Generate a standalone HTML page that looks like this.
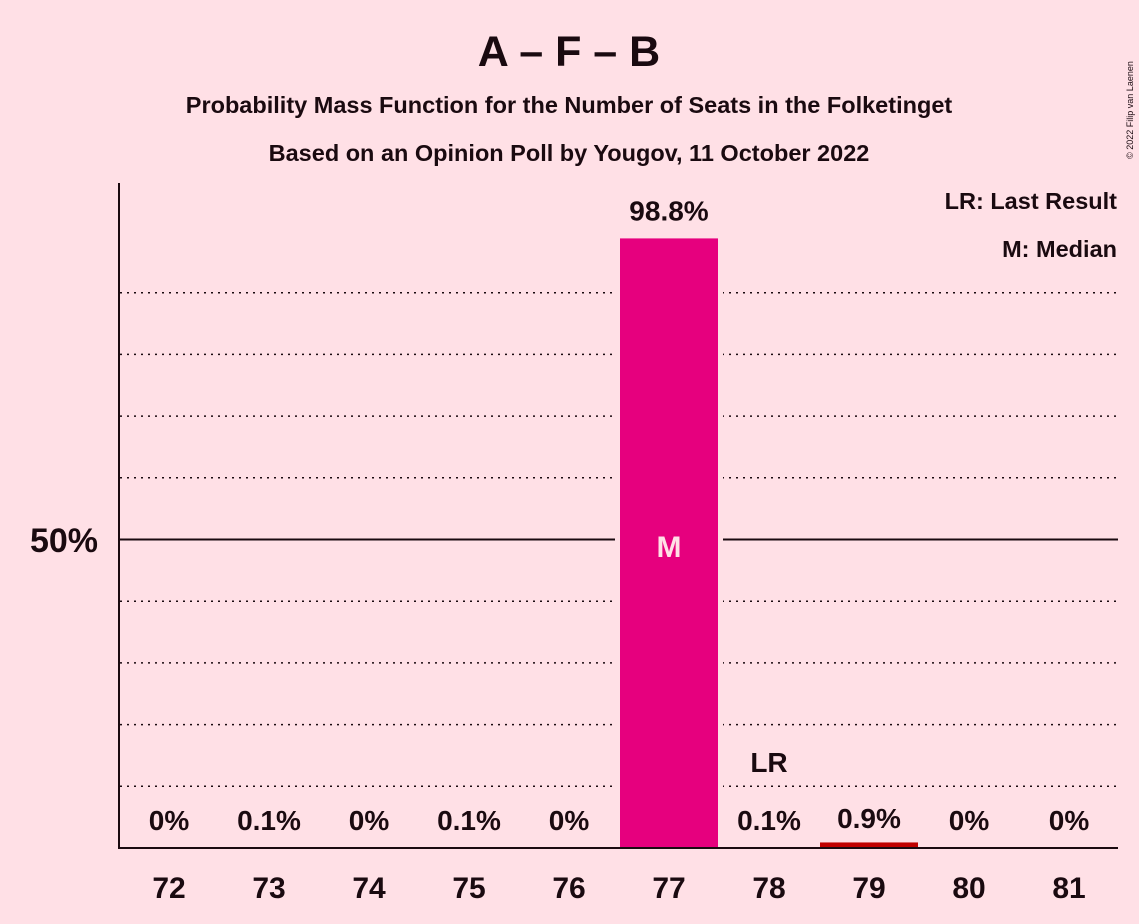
<!DOCTYPE html>
<html><head><meta charset="utf-8"><style>
body{margin:0;background:#FFE0E6;}
svg{display:block;font-family:"Liberation Sans",sans-serif;font-weight:bold;}
</style></head><body>
<svg id="c" width="1139" height="924">
<rect width="1139" height="924" fill="#FFE0E6"/>
<text x="569" y="66" text-anchor="middle" font-size="43" fill="#1A0A10">A – F – B</text>
<text x="569" y="113" text-anchor="middle" font-size="23.5" fill="#1A0A10">Probability Mass Function for the Number of Seats in the Folketinget</text>
<text x="569" y="161" text-anchor="middle" font-size="23.5" fill="#1A0A10">Based on an Opinion Poll by Yougov, 11 October 2022</text>
<text x="1117" y="209" text-anchor="end" font-size="23.5" fill="#1A0A10">LR: Last Result</text>
<text x="1117" y="257" text-anchor="end" font-size="23.5" fill="#1A0A10">M: Median</text>
<text x="1133" y="110" font-size="9" font-weight="normal" fill="#1A0A10" transform="rotate(-90 1133 110)" text-anchor="middle">© 2022 Filip van Laenen</text>
<g id="grid"></g><g id="bars"></g><g id="labels"></g>
<line x1="119" y1="183" x2="119" y2="849" stroke="#1A0A10" stroke-width="2"/>
<line x1="118" y1="848" x2="1118" y2="848" stroke="#1A0A10" stroke-width="2"/>
<text x="98" y="552" text-anchor="end" font-size="34" fill="#1A0A10">50%</text>
</svg>
<script>
const categories=[72,73,74,75,76,77,78,79,80,81];
const values=[0,0.1,0,0.1,0,98.8,0.1,0.9,0,0];
const valueLabels=["0%","0.1%","0%","0.1%","0%","98.8%","0.1%","0.9%","0%","0%"];
const medianSeat=77, lastResultSeat=78;
const NS="http://www.w3.org/2000/svg";
const y=v=>848-v*6.17;
const x=i=>169+i*100;
function mk(t,a,p){const e=document.createElementNS(NS,t);for(const k in a)e.setAttribute(k,a[k]);p.appendChild(e);return e;}
const g=document.getElementById('grid'),b=document.getElementById('bars'),l=document.getElementById('labels');
for(let p=10;p<=90;p+=10){
 const ln=mk('line',{x1:120,x2:1118,y1:y(p),y2:y(p),stroke:'#1A0A10','stroke-width':p==50?2:1.5,'stroke-dasharray':p==50?'':'2,5'},g);
 
 
}
categories.forEach((c,i)=>{
 const v=values[i];
 const col=c==medianSeat?'#E6007E':'#C00000';
 if(v>0){
  const h=Math.max(848-y(v),0);
  if(v>5){
   const gap=mk('rect',{x:x(i)-54,y:y(v),width:108,height:h-1,fill:'#FFE0E6'},b);
   
   
  }
  const r=mk('rect',{x:x(i)-49,y:y(v),width:98,height:h,fill:col},b);
  
  
 }
 const t=mk('text',{x:x(i),y:898,'text-anchor':'middle','font-size':30,fill:'#1A0A10'},l);t.textContent=c;
 
 
 const big=v>50;
 const ly=big?y(v)-18:(v>=0.5?Math.min(y(v)-12,828):830);
 const vl=mk('text',{x:x(i),y:ly,'text-anchor':'middle','font-size':28,fill:'#1A0A10'},l);vl.textContent=valueLabels[i];
 
 
 if(c==medianSeat){const m=mk('text',{x:x(i),y:557,'text-anchor':'middle','font-size':30,fill:'#FFE0E6'},l);m.textContent='M';
  
  }
 if(c==lastResultSeat){const m=mk('text',{x:x(i),y:772,'text-anchor':'middle','font-size':28,fill:'#1A0A10'},l);m.textContent='LR';
  
  }
});
</script>
</body></html>
